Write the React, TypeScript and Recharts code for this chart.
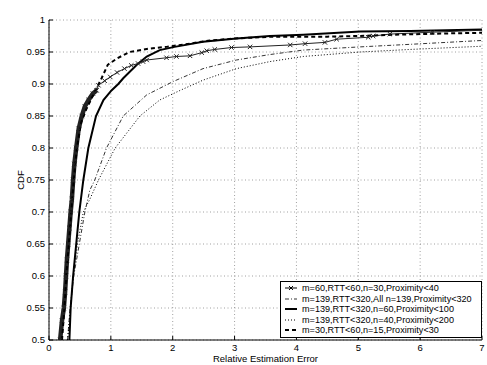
import {
  LineChart,
  Line,
  XAxis,
  YAxis,
  CartesianGrid,
  Legend,
  Label,
} from 'recharts';

type Pt = { x: number; y: number };

const FONT = '"Liberation Sans", Arial, Helvetica, sans-serif';

const title = 'CDF Plots of Network Embedding n, Dimensionality Reduction k=10';
const xTitle = 'Relative Estimation Error';
const yTitle = 'CDF';

const xTicks = [0, 1, 2, 3, 4, 5, 6, 7];
const yTicks = [0.5, 0.55, 0.6, 0.65, 0.7, 0.75, 0.8, 0.85, 0.9, 0.95, 1];

const seriesNames = [
  'm=60,RTT<60,n=30,Proximity<40',
  'm=139,RTT<320,All n=139,Proximity<320',
  'm=139,RTT<320,n=60,Proximity<100',
  'm=139,RTT<320,n=40,Proximity<200',
  'm=30,RTT<60,n=15,Proximity<30',
];

// m=60 (x markers)
const prox40: Pt[] = [
  { x: 0.18, y: 0.5 }, { x: 0.21, y: 0.53 }, { x: 0.24, y: 0.55 }, { x: 0.26, y: 0.575 },
  { x: 0.275, y: 0.6 }, { x: 0.29, y: 0.625 }, { x: 0.31, y: 0.65 }, { x: 0.33, y: 0.675 },
  { x: 0.35, y: 0.7 }, { x: 0.37, y: 0.72 }, { x: 0.39, y: 0.75 }, { x: 0.41, y: 0.775 },
  { x: 0.44, y: 0.8 }, { x: 0.48, y: 0.83 }, { x: 0.53, y: 0.85 }, { x: 0.58, y: 0.865 },
  { x: 0.64, y: 0.875 }, { x: 0.71, y: 0.885 }, { x: 0.77, y: 0.89 }, { x: 0.8, y: 0.898 },
  { x: 0.9, y: 0.905 }, { x: 0.99, y: 0.911 }, { x: 1.1, y: 0.918 }, { x: 1.22, y: 0.924 },
  { x: 1.33, y: 0.929 }, { x: 1.44, y: 0.932 }, { x: 1.52, y: 0.935 }, { x: 1.58, y: 0.9375 },
  { x: 1.9, y: 0.941 }, { x: 2.06, y: 0.943 }, { x: 2.28, y: 0.944 }, { x: 2.47, y: 0.949 },
  { x: 2.55, y: 0.952 }, { x: 2.68, y: 0.954 }, { x: 2.95, y: 0.957 }, { x: 3.25, y: 0.958 },
  { x: 3.9, y: 0.961 }, { x: 4.14, y: 0.963 }, { x: 4.46, y: 0.965 }, { x: 4.65, y: 0.97 },
  { x: 5.16, y: 0.973 }, { x: 5.24, y: 0.975 }, { x: 5.51, y: 0.978 }, { x: 6.2, y: 0.981 },
  { x: 7, y: 0.984 },
];

// All n=139 (dash-dot)
const prox320: Pt[] = [
  { x: 0.3, y: 0.5 }, { x: 0.34, y: 0.55 }, { x: 0.4, y: 0.6 }, { x: 0.49, y: 0.65 },
  { x: 0.58, y: 0.7 }, { x: 0.66, y: 0.734 }, { x: 0.74, y: 0.75 }, { x: 0.93, y: 0.8 },
  { x: 1.2, y: 0.85 }, { x: 1.58, y: 0.883 }, { x: 2.01, y: 0.904 }, { x: 2.49, y: 0.924 },
  { x: 3.03, y: 0.9375 }, { x: 3.57, y: 0.946 }, { x: 4.11, y: 0.953 }, { x: 5.03, y: 0.958 },
  { x: 5.84, y: 0.962 }, { x: 7, y: 0.968 },
];

// n=60 (thick solid)
const prox100: Pt[] = [
  { x: 0.33, y: 0.5 }, { x: 0.35, y: 0.55 }, { x: 0.39, y: 0.6 }, { x: 0.44, y: 0.65 },
  { x: 0.49, y: 0.7 }, { x: 0.555, y: 0.75 }, { x: 0.636, y: 0.8 }, { x: 0.76, y: 0.85 },
  { x: 0.88, y: 0.875 }, { x: 1.01, y: 0.89 }, { x: 1.12, y: 0.9 }, { x: 1.2, y: 0.909 },
  { x: 1.42, y: 0.93 }, { x: 1.58, y: 0.943 }, { x: 1.79, y: 0.953 }, { x: 2.03, y: 0.958 },
  { x: 2.49, y: 0.966 }, { x: 3.03, y: 0.971 }, { x: 3.57, y: 0.975 }, { x: 4.11, y: 0.977 },
  { x: 5.03, y: 0.982 }, { x: 5.84, y: 0.983 }, { x: 7, y: 0.985 },
];

// n=40 (dotted)
const prox200: Pt[] = [
  { x: 0.3, y: 0.5 }, { x: 0.35, y: 0.55 }, { x: 0.39, y: 0.6 }, { x: 0.46, y: 0.65 },
  { x: 0.555, y: 0.7 }, { x: 0.66, y: 0.72 }, { x: 0.8, y: 0.75 }, { x: 1.07, y: 0.8 },
  { x: 1.47, y: 0.85 }, { x: 1.79, y: 0.875 }, { x: 2.12, y: 0.89 }, { x: 2.49, y: 0.906 },
  { x: 3.03, y: 0.924 }, { x: 3.57, y: 0.935 }, { x: 4.11, y: 0.943 }, { x: 5.03, y: 0.95 },
  { x: 5.84, y: 0.954 }, { x: 7, y: 0.959 },
];

// n=15 (thick dashed)
const prox30: Pt[] = [
  { x: 0.21, y: 0.5 }, { x: 0.25, y: 0.55 }, { x: 0.28, y: 0.6 }, { x: 0.32, y: 0.65 },
  { x: 0.36, y: 0.7 }, { x: 0.4, y: 0.75 }, { x: 0.45, y: 0.8 }, { x: 0.52, y: 0.84 },
  { x: 0.6, y: 0.86 }, { x: 0.7, y: 0.88 }, { x: 0.85, y: 0.909 }, { x: 0.95, y: 0.93 },
  { x: 1.1, y: 0.94 }, { x: 1.3, y: 0.95 }, { x: 1.6, y: 0.955 }, { x: 1.9, y: 0.958 },
  { x: 2.2, y: 0.962 }, { x: 2.6, y: 0.968 }, { x: 3.0, y: 0.971 }, { x: 3.6, y: 0.974 },
  { x: 4.5, y: 0.974 }, { x: 5.0, y: 0.975 }, { x: 5.6, y: 0.977 }, { x: 6.4, y: 0.979 },
  { x: 7, y: 0.98 },
];

// the dense part of the m=60 curve shows as a solid blob of markers
const prox40Dense = prox40.filter((p) => p.y <= 0.89);

function XMark(props: any) {
  const { cx, cy, index } = props;
  if (cx == null || cy == null || index === prox40.length - 1) return <g key={`xm${index}`} />;
  const s = 2.2;
  return (
    <path
      key={`xm${index}`}
      d={`M${cx - s},${cy - s}L${cx + s},${cy + s}M${cx - s},${cy + s}L${cx + s},${cy - s}`}
      stroke="#222"
      strokeWidth={1}
    />
  );
}

const legendStyles = [
  { dash: undefined, width: 1, marker: true },
  { dash: '4 2 1 2', width: 0.8, marker: false },
  { dash: undefined, width: 2, marker: false },
  { dash: '1 2', width: 1, marker: false },
  { dash: '4 3', width: 2, marker: false },
];

function LegendBox() {
  return (
    <div
      style={{
        border: '1px solid #000',
        background: '#fff',
        width: 200,
        padding: '1px 0',
        fontFamily: FONT,
        fontSize: 9.1,
        color: '#000',
      }}
    >
      {seriesNames.map((name, i) => (
        <div key={name} style={{ display: 'flex', alignItems: 'center', height: 10.5 }}>
          <svg width={16} height={10} style={{ marginLeft: 3, marginRight: 2, flexShrink: 0 }}>
            <line
              x1={1}
              x2={13}
              y1={5}
              y2={5}
              stroke="#000"
              strokeWidth={legendStyles[i].width}
              strokeDasharray={legendStyles[i].dash}
            />
            {legendStyles[i].marker && (
              <path d="M5,3L9,7M5,7L9,3" stroke="#000" strokeWidth={1} />
            )}
          </svg>
          <span style={{ whiteSpace: 'nowrap' }}>{name}</span>
        </div>
      ))}
    </div>
  );
}

const tickStyle = { fontSize: 9.5, fill: '#000', fontFamily: FONT };

export default function App() {
  return (
    <div style={{ position: 'absolute', left: 0, top: 0, width: 487, height: 365, background: '#fff' }}>
      <LineChart width={487} height={365} margin={{ top: 20, right: 5, bottom: 0, left: 0 }}>
        <CartesianGrid stroke="#888" strokeDasharray="1 2.5" strokeWidth={0.8} />
        <XAxis
          dataKey="x"
          type="number"
          domain={[0, 7]}
          ticks={xTicks}
          allowDataOverflow
          height={25}
          stroke="#000"
          tickSize={-4}
          tickMargin={8}
          tick={tickStyle}
        >
          <Label
            content={() => (
              <text x={265.5} y={359} textAnchor="middle" dominantBaseline="middle" fontSize={9.5} fontFamily={FONT} fill="#000">
                {xTitle}
              </text>
            )}
          />
        </XAxis>
        <XAxis
          xAxisId="top"
          orientation="top"
          type="number"
          dataKey="x"
          domain={[0, 7]}
          ticks={xTicks}
          height={0}
          stroke="#000"
          tickSize={-4}
          tick={false}
        >
          <Label
            content={() => (
              <text x={265.5} y={12.5} textAnchor="middle" dominantBaseline="middle" fontSize={9.5} fontFamily={FONT} fill="#000">
                {title}
              </text>
            )}
          />
        </XAxis>
        <YAxis
          type="number"
          domain={[0.5, 1]}
          ticks={yTicks}
          allowDataOverflow
          width={49}
          stroke="#000"
          tickSize={-4}
          tickMargin={8}
          tick={tickStyle}
          tickFormatter={(v: number) => String(+v.toFixed(2))}
        >
          <Label
            content={() => (
              <text
                x={21.5}
                y={180}
                transform="rotate(-90 21.5 180)"
                textAnchor="middle"
                dominantBaseline="middle"
                fontSize={9.5}
                fontFamily={FONT}
                fill="#000"
              >
                {yTitle}
              </text>
            )}
          />
        </YAxis>
        <YAxis
          yAxisId="right"
          orientation="right"
          type="number"
          domain={[0.5, 1]}
          ticks={yTicks}
          width={0}
          stroke="#000"
          tickSize={-4}
          tick={false}
        />
        <Line
          data={prox200}
          dataKey="y"
          name={seriesNames[3]}
          stroke="#000"
          strokeWidth={1}
          strokeDasharray="1 2"
          dot={false}
          isAnimationActive={false}
        />
        <Line
          data={prox320}
          dataKey="y"
          name={seriesNames[1]}
          stroke="#000"
          strokeWidth={0.8}
          strokeDasharray="4 2 1 2"
          dot={false}
          isAnimationActive={false}
        />
        <Line
          data={prox100}
          dataKey="y"
          name={seriesNames[2]}
          stroke="#000"
          strokeWidth={2}
          dot={false}
          isAnimationActive={false}
        />
        <Line
          data={prox40Dense}
          dataKey="y"
          name="dense"
          legendType="none"
          stroke="#222"
          strokeWidth={4.5}
          dot={false}
          isAnimationActive={false}
        />
        <Line
          data={prox40}
          dataKey="y"
          name={seriesNames[0]}
          stroke="#222"
          strokeWidth={1}
          dot={XMark}
          isAnimationActive={false}
        />
        <Line
          data={prox30}
          dataKey="y"
          name={seriesNames[4]}
          stroke="#000"
          strokeWidth={2}
          strokeDasharray="4 3"
          dot={false}
          isAnimationActive={false}
        />
        <Legend
          layout="vertical"
          align="center"
          verticalAlign="middle"
          content={() => <LegendBox />}
          wrapperStyle={{ position: 'absolute', left: 280, top: 281, width: 202 }}
        />
      </LineChart>
    </div>
  );
}
